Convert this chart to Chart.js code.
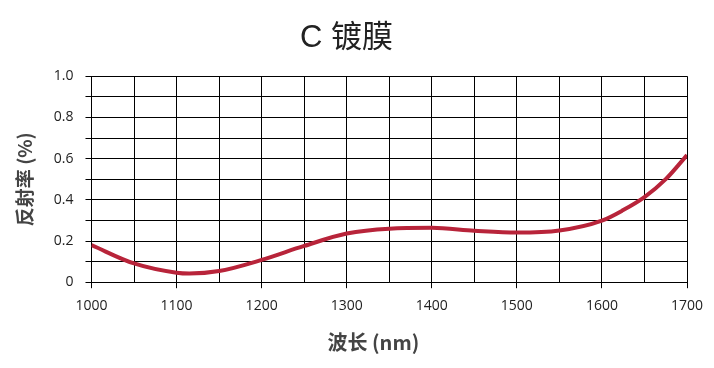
<!DOCTYPE html>
<html>
<head>
<meta charset="utf-8">
<script src="https://cdn.jsdelivr.net/npm/chart.js@4/dist/chart.umd.min.js"></script>
<style>
    html, body { margin: 0; padding: 0; background: #fff; }
    #wrap { width: 714px; height: 368px; }
</style>
</head>
<body>
<div id="wrap"><canvas id="chart"></canvas></div>
<script>
"use strict";

// wavelength (nm) and reflectance
var wavelengths = [1000, 1050, 1100, 1115, 1150, 1200, 1250, 1300, 1350, 1400, 1450, 1500, 1550, 1600, 1625, 1650, 1675, 1700];
var reflectance = [0.180, 0.091, 0.046, 0.042, 0.054, 0.108, 0.176, 0.236, 0.260, 0.264, 0.250, 0.241, 0.251, 0.299, 0.350, 0.413, 0.500, 0.617];

var chartTitle = "C 镀膜";
var xTitle = "波长 (nm)";
var yTitle = "反射率 (%)";

var tickFont = { family: "'Open Sans', 'Noto Sans', sans-serif", size: 14 };
var cjkFamily = "'Noto Sans CJK SC', 'Open Sans', sans-serif";

var points = wavelengths.map(function (w, i) {
    return { x: w, y: reflectance[i] };
});

var config = {
    type: "line",
    data: {
        datasets: [{
            data: points,
            borderColor: "#b8243a",
            borderWidth: 4,
            pointRadius: 0,
            cubicInterpolationMode: "monotone",
            fill: false
        }]
    },
    options: {
        responsive: true,
        maintainAspectRatio: false,
        animation: false,
        layout: {
            padding: { left: 6, right: 27, top: 0, bottom: 14 }
        },
        plugins: {
            legend: { display: false },
            tooltip: { enabled: false },
            title: {
                display: true,
                text: chartTitle,
                color: "#222",
                font: { family: "'Liberation Sans', 'Noto Sans CJK SC', sans-serif", size: 31, weight: "normal" },
                padding: { top: 20, bottom: 19 }
            }
        },
        scales: {
            x: {
                type: "linear",
                min: 1000,
                max: 1700,
                border: { color: "#000", width: 1 },
                grid: {
                    color: "#000",
                    lineWidth: 1,
                    tickLength: 6,
                    tickColor: function (ctx) {
                        return ctx.tick && ctx.tick.value % 100 === 0 ? "#000" : "rgba(0,0,0,0)";
                    }
                },
                ticks: {
                    stepSize: 50,
                    autoSkip: false,
                    maxRotation: 0,
                    padding: 9,
                    color: "#222",
                    font: tickFont,
                    callback: function (value) {
                        return value % 100 === 0 ? String(value) : "";
                    }
                },
                title: {
                    display: true,
                    text: xTitle + "\u00a0\u00a0\u00a0\u00a0\u00a0\u00a0\u00a0",
                    color: "#444",
                    font: { family: cjkFamily, size: 20, weight: "bold" },
                    padding: { top: 7, bottom: 0 }
                }
            },
            y: {
                min: 0,
                max: 1,
                border: { color: "#000", width: 1 },
                grid: {
                    color: "#000",
                    lineWidth: 1,
                    tickLength: 6,
                    tickColor: "#000"
                },
                ticks: {
                    stepSize: 0.1,
                    autoSkip: false,
                    padding: 12,
                    color: "#222",
                    font: tickFont,
                    callback: function (value) {
                        var tenths = Math.round(value * 10);
                        if (tenths % 2 !== 0) {
                            return "";
                        }
                        return tenths === 0 ? "0" : (tenths / 10).toFixed(1);
                    }
                },
                title: {
                    display: true,
                    text: yTitle,
                    color: "#444",
                    font: { family: cjkFamily, size: 19, weight: "bold" },
                    padding: { top: 7, bottom: 6 }
                }
            }
        }
    }
};

new Chart(document.getElementById("chart"), config);
</script>
</body>
</html>
